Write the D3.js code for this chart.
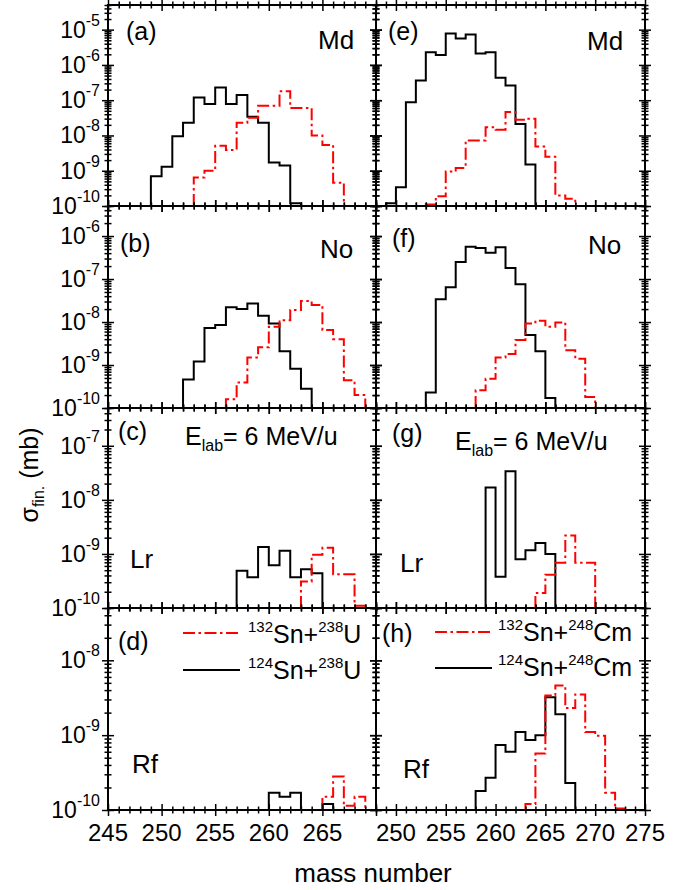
<!DOCTYPE html>
<html>
<head>
<meta charset="utf-8">
<script src="https://cdn.jsdelivr.net/npm/d3@7"></script>
<style>
  body { margin: 0; background: #fff; }
  svg { display: block; font-family: "Liberation Sans", Arial, sans-serif; }
</style>
</head>
<body>
<div id="wrapper"></div>
<script>
// mass numbers (left edge of each bin) for the U column and the Cm column
const massU = [249, 250, 251, 252, 253, 254, 255, 256, 257, 258, 259, 260, 261, 262, 263, 264, 265, 266, 267, 268];
const massCm = [249, 250, 251, 252, 253, 254, 255, 256, 257, 258, 259, 260, 261, 262, 263, 264, 265, 266, 267, 268, 269, 270, 271, 272];

// cross sections (mb), null = no bin
// (a) Md, U target
const sigA124 = [7e-10, 1.3e-9, 9.5e-9, 2.3e-8, 1.2e-7, 7.8e-8, 2.3e-7, 7.8e-8, 1.4e-7, 3.4e-8, 2.3e-8, 1.7e-9, 1.4e-9, 1.2e-10, null, null, null, null, null, null];
const sigA132 = [null, null, null, null, 6.4e-10, 1e-9, 5.1e-9, 3.9e-9, 2.3e-8, 3.2e-8, 7e-8, 7e-8, 1.8e-7, 6e-8, 6e-8, 1e-8, 5.4e-9, 4.6e-10, null, null];
// (b) No
const sigB124 = [null, null, null, 4.6e-10, 1.2e-9, 7.3e-9, 8.5e-9, 2.2e-8, 2e-8, 2.7e-8, 1.4e-8, 9.3e-9, 2.1e-9, 8.2e-10, 2.8e-10, null, null, null, null, null];
const sigB132 = [null, null, null, null, null, null, null, 1.6e-10, 3.9e-10, 1.5e-9, 2.6e-9, 7.8e-9, 1.1e-8, 1.9e-8, 3.1e-8, 2.5e-8, 6.5e-9, 4e-9, 4.4e-10, 2e-10];
// (c) Lr
const sigC124 = [null, null, null, null, null, null, null, null, 4.9e-10, 3.7e-10, 1.35e-9, 6.2e-10, 1.15e-9, 3.7e-10, 5.2e-10, 4.4e-10, null, null, null, null];
const sigC132 = [null, null, null, null, null, null, null, null, null, null, null, null, null, null, 3.1e-10, 9.7e-10, 1.3e-9, 4.2e-10, 4.2e-10, 1.1e-10];
// (d) Rf
const sigD124 = [null, null, null, null, null, null, null, null, null, null, null, 1.7e-10, 1.5e-10, 1.7e-10, null, null, 1.2e-10, null, null, null];
const sigD132 = [null, null, null, null, null, null, null, null, null, null, null, null, null, null, null, null, 1.5e-10, 2.8e-10, 1.14e-10, 1.5e-10];

// (e) Md, Cm target
const sigE124 = [1.2e-10, 3.4e-10, 8.7e-8, 3.6e-7, 2.3e-6, 1.9e-6, 7.8e-6, 5.6e-6, 7.3e-6, 2.1e-6, 2.3e-6, 4.3e-7, 2.6e-7, 2.1e-8, 1.5e-9, null, null, null, null, null, null, null, null, null];
const sigE132 = [null, null, null, null, 1.1e-10, 1.9e-10, 9.5e-10, 1.2e-9, 7.2e-9, 7.2e-9, 1.7e-8, 1.45e-8, 4.6e-8, 2.8e-8, 3e-8, 4.9e-9, 2.5e-9, 2e-10, 1.6e-10, null, null, null, null, null];
// (f) No
const sigF124 = [null, null, null, null, 2.3e-10, 3.4e-8, 6.4e-8, 2.5e-7, 5.6e-7, 5.3e-7, 4.1e-7, 5.5e-7, 1.8e-7, 7.6e-8, 5e-9, 2.1e-9, 1.7e-10, null, null, null, null, null, null, null];
const sigF132 = [null, null, null, null, null, null, null, null, null, 2.6e-10, 4.8e-10, 1.5e-9, 1.8e-9, 3.8e-9, 9.3e-9, 1.07e-8, 7.8e-9, 9.8e-9, 2.2e-9, 1.4e-9, 1.8e-10, null, null, null];
// (g) Lr
const sigG124 = [null, null, null, null, null, null, null, null, null, null, 1.7e-8, 3.8e-10, 3.4e-8, 8e-10, 1.17e-9, 1.6e-9, 1.0e-9, null, null, null, null, null, null, null];
const sigG132 = [null, null, null, null, null, null, null, null, null, null, null, null, null, null, null, 1.9e-10, 4.1e-10, 6.9e-10, 2.2e-9, 6.9e-10, 6.9e-10, null, null, null];
// (h) Rf
const sigH124 = [null, null, null, null, null, null, null, null, null, 1.8e-10, 2.7e-10, 7.4e-10, 6e-10, 1.1e-9, 8.6e-10, 1e-9, 3.2e-9, 1.9e-9, 2.3e-10, null, null, null, null, null];
const sigH132 = [null, null, null, null, null, null, null, null, null, null, null, null, null, null, 1.2e-10, 5.7e-10, 3.4e-9, 4.6e-9, 2.3e-9, 3.5e-9, 1.1e-9, 9.8e-10, 1.7e-10, 1.05e-10];

// axis ranges and tick labels
const xDomainU = [245, 270];
const xDomainCm = [248, 275];
const xLabelsU = [245, 250, 255, 260, 265];
const xLabelsCm = [250, 255, 260, 265, 270, 275];
const yTopRows = [5e-5, 5e-6, 5e-7, 5e-8];
const yExpRows = [[-5, -6, -7, -8, -9, -10], [-6, -7, -8, -9, -10], [-7, -8, -9, -10], [-8, -9, -10]];
const elements = ['Md', 'No', 'Lr', 'Rf'];
const legendU = [['132', 'Sn+', '238', 'U'], ['124', 'Sn+', '238', 'U']];
const legendCm = [['132', 'Sn+', '248', 'Cm'], ['124', 'Sn+', '248', 'Cm']];

const floor = 1e-10;
const RED = '#ff0000';
const DASH = '12,3.5,2.5,3.5';

// layout
const colX = [[108, 376], [376, 645]];
const rowY = [5, 206, 408, 608, 810];

const svg = d3.select('#wrapper').append('svg')
  .attr('width', 689)
  .attr('height', 890);

const panels = [
  { col: 0, row: 0, mass: massU, s124: sigA124, s132: sigA132, tag: '(a)', tagPos: [126, 40], elPos: [318, 49] },
  { col: 0, row: 1, mass: massU, s124: sigB124, s132: sigB132, tag: '(b)', tagPos: [120, 252], elPos: [320, 258] },
  { col: 0, row: 2, mass: massU, s124: sigC124, s132: sigC132, tag: '(c)', tagPos: [118, 440], elPos: [130, 568] },
  { col: 0, row: 3, mass: massU, s124: sigD124, s132: sigD132, tag: '(d)', tagPos: [118, 650], elPos: [132, 773] },
  { col: 1, row: 0, mass: massCm, s124: sigE124, s132: sigE132, tag: '(e)', tagPos: [388, 40], elPos: [587, 50] },
  { col: 1, row: 1, mass: massCm, s124: sigF124, s132: sigF132, tag: '(f)', tagPos: [392, 247], elPos: [588, 254] },
  { col: 1, row: 2, mass: massCm, s124: sigG124, s132: sigG132, tag: '(g)', tagPos: [392, 442], elPos: [400, 572] },
  { col: 1, row: 3, mass: massCm, s124: sigH124, s132: sigH132, tag: '(h)', tagPos: [382, 642], elPos: [403, 778] }
];

function edgeTicks(g, scale, vertical, pos, major, minor) {
  const gens = vertical ? [d3.axisLeft, d3.axisRight] : [d3.axisTop, d3.axisBottom];
  gens.forEach(gen => {
    [[major, 6], [minor, 3.5]].forEach(([vals, len]) => {
      const a = g.append('g')
        .attr('transform', vertical ? `translate(${pos},0)` : `translate(0,${pos})`)
        .call(gen(scale).tickValues(vals).tickSize(len).tickFormat(''));
      a.select('.domain').remove();
      a.selectAll('line').attr('stroke', '#000').attr('stroke-width', 1.5);
    });
  });
}

function drawSeries(g, x, y, mass, sig, color, dash) {
  // split into runs of consecutive bins
  const runs = [];
  let cur = [];
  sig.forEach((v, i) => {
    if (v == null) { if (cur.length) runs.push(cur); cur = []; }
    else cur.push([mass[i], v]);
  });
  if (cur.length) runs.push(cur);

  const line = d3.line()
    .curve(d3.curveStepAfter)
    .x(d => x(d[0]))
    .y(d => y(Math.max(d[1], floor)));

  runs.forEach(r => {
    const last = r[r.length - 1];
    const pts = [[r[0][0], floor], ...r, [last[0] + 1, floor]];
    g.append('path')
      .attr('d', line(pts))
      .attr('fill', 'none')
      .attr('stroke', color)
      .attr('stroke-width', 2)
      .attr('stroke-dasharray', dash);
  });
}

panels.forEach(p => {
  const [x0, x1] = colX[p.col];
  const y0 = rowY[p.row], y1 = rowY[p.row + 1];
  const xDom = p.col === 0 ? xDomainU : xDomainCm;
  const top = yTopRows[p.row];

  const x = d3.scaleLinear().domain(xDom).range([x0, x1]);
  const y = d3.scaleLog().domain([floor, top]).range([y1, y0]);

  const g = svg.append('g');

  // data
  drawSeries(g, x, y, p.mass, p.s124, '#000', null);
  drawSeries(g, x, y, p.mass, p.s132, RED, DASH);

  // ticks on all four sides
  const xMajor = d3.range(Math.ceil(xDom[0] / 5) * 5, xDom[1] + 0.1, 5);
  const xMinor = d3.range(xDom[0], xDom[1] + 0.1, 1).filter(v => v % 5 !== 0);
  const yMajor = [], yMinor = [];
  for (let e = -10; e <= -4; e++) {
    if (Math.pow(10, e) <= top * 1.0001) yMajor.push(Math.pow(10, e));
    for (let k = 2; k <= 9; k++) {
      const v = k * Math.pow(10, e);
      if (v <= top * 1.0001) yMinor.push(v);
    }
  }
  edgeTicks(g, y, true, x0, yMajor, yMinor);
  edgeTicks(g, y, true, x1, yMajor, yMinor);
  edgeTicks(g, x, false, y0, xMajor, xMinor);
  edgeTicks(g, x, false, y1, xMajor, xMinor);

  // frame
  g.append('rect')
    .attr('x', x0).attr('y', y0)
    .attr('width', x1 - x0).attr('height', y1 - y0)
    .attr('fill', 'none')
    .attr('stroke', '#000')
    .attr('stroke-width', 2);

  // y tick labels (left column only)
  if (p.col === 0) {
    yExpRows[p.row].forEach(e => {
      const t = g.append('text')
        .attr('x', 100)
        .attr('y', y(Math.pow(10, e)) + 8)
        .attr('text-anchor', 'end')
        .attr('fill', '#000');
      t.append('tspan').attr('font-size', 23).text('10');
      t.append('tspan').attr('font-size', 16).attr('dy', -12).text(String(e));
    });
  }

  // x tick labels (bottom row only)
  if (p.row === 3) {
    (p.col === 0 ? xLabelsU : xLabelsCm).forEach(v => {
      g.append('text')
        .attr('x', x(v))
        .attr('y', 841)
        .attr('text-anchor', 'middle')
        .attr('font-size', 24)
        .attr('fill', '#000')
        .text(v);
    });
  }

  // panel tag and element
  g.append('text')
    .attr('x', p.tagPos[0]).attr('y', p.tagPos[1])
    .attr('font-size', 25)
    .text(p.tag);
  g.append('text')
    .attr('x', p.elPos[0]).attr('y', p.elPos[1])
    .attr('font-size', 26)
    .text(elements[p.row]);

  // energy label
  if (p.row === 2) {
    const t = g.append('text')
      .attr('x', p.col === 0 ? 185 : 455)
      .attr('y', p.col === 0 ? 445 : 450)
      .attr('font-size', 25);
    t.append('tspan').text('E');
    t.append('tspan').attr('font-size', 16).attr('dy', 6).text('lab');
    t.append('tspan').attr('dy', -6).text('= 6 MeV/u');
  }

  // legend
  if (p.row === 3) {
    const leg = p.col === 0 ? legendU : legendCm;
    const lx = p.col === 0 ? [183, 240] : [435, 492];
    const tx = p.col === 0 ? 248 : 498;
    const ly = p.col === 0 ? [633, 670] : [632, 668];
    const ty = p.col === 0 ? [643, 679] : [641, 676];
    [[RED, DASH], ['#000', null]].forEach(([c, d], i) => {
      g.append('line')
        .attr('x1', lx[0]).attr('x2', lx[1])
        .attr('y1', ly[i]).attr('y2', ly[i])
        .attr('stroke', c)
        .attr('stroke-width', 2)
        .attr('stroke-dasharray', d);
      const t = g.append('text').attr('x', tx).attr('y', ty[i]).attr('font-size', 25);
      t.append('tspan').attr('font-size', 15).attr('dy', -11).text(leg[i][0]);
      t.append('tspan').attr('dy', 11).text(leg[i][1]);
      t.append('tspan').attr('font-size', 15).attr('dy', -11).text(leg[i][2]);
      t.append('tspan').attr('dy', 11).text(leg[i][3]);
    });
  }
});

// axis titles
svg.append('text')
  .attr('x', 373).attr('y', 882)
  .attr('text-anchor', 'middle')
  .attr('font-size', 26)
  .text('mass number');

const yt = svg.append('text')
  .attr('transform', 'translate(38,475) rotate(-90)')
  .attr('text-anchor', 'middle')
  .attr('font-size', 25);
yt.append('tspan').text('σ');
yt.append('tspan').attr('font-size', 16).attr('dy', 6).text('fin.');
yt.append('tspan').attr('dy', -6).text(' (mb)');
</script>
</body>
</html>
